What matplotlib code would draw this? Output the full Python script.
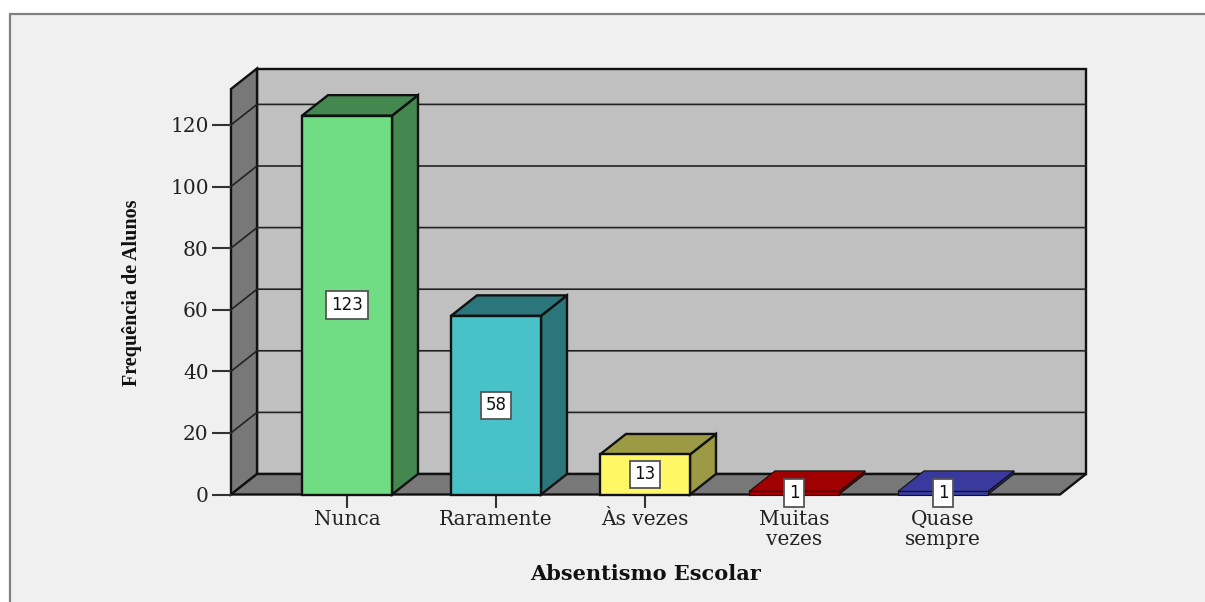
import matplotlib
matplotlib.use("Agg")
import matplotlib.pyplot as plt
from matplotlib.patches import Rectangle

categories = ["Nunca", "Raramente", "Às vezes", "Muitas\nvezes", "Quase\nsempre"]
values = [123, 58, 13, 1, 1]
front_colors = ["#70DC84", "#48C2C8", "#FFF765", "#A00000", "#3A3A9E"]
shade_colors = ["#44874F", "#2A767A", "#9C9A45", "#A00000", "#3A3A9E"]
side_colors = ["#44874F", "#2A767A", "#9C9A45", "#6E0000", "#26266E"]
y_ticks = [0, 20, 40, 60, 80, 100, 120]

W, H = 1205, 602
fig = plt.figure(figsize=(W / 100, H / 100), dpi=100, facecolor="white")

# panel background with its thin grey frame
fig.add_artist(Rectangle((9.5 / W, -0.02), 1.1, (H - 14) / H + 0.02, transform=fig.transFigure,
                         facecolor="#F0F0F0", edgecolor="#808080", linewidth=1.6, zorder=-1))

# axes span the front plane of the 3D box
left, right, bottom, top = 231, 1060, 494.5, 89
ax = fig.add_axes([left / W, 1 - bottom / H, (right - left) / W, (bottom - top) / H])
ax.patch.set_visible(False)
for s in ax.spines.values():
    s.set_visible(False)

spacing = 149.0
px_per_unit = 3.08
x_min = (left - 347) / spacing
x_max = (right - 347) / spacing
y_max = (bottom - top) / px_per_unit
ax.set_xlim(x_min, x_max)
ax.set_ylim(0, y_max)
dx = 26 / spacing
dy = 20.5 / px_per_unit
bar_w = 90 / spacing
line = "#111111"
wall_lw = 1.7


def poly(xs, ys, fc, z, lw=wall_lw):
    ax.fill(xs, ys, facecolor=fc, edgecolor=line, linewidth=lw, zorder=z,
            clip_on=False, joinstyle="miter")


# back wall, left wall and floor
poly([x_min + dx, x_max + dx, x_max + dx, x_min + dx], [dy, dy, y_max + dy, y_max + dy], "#C0C0C0", 1)
poly([x_min, x_min + dx, x_min + dx, x_min], [0, dy, y_max + dy, y_max], "#787878", 1.2)
poly([x_min, x_max, x_max + dx, x_min + dx], [0, 0, dy, dy], "#787878", 1.2)

# gridlines wrap from the left wall onto the back wall
for t in y_ticks[1:]:
    ax.plot([x_min, x_min + dx, x_max + dx], [t, t + dy, t + dy], color="#222222",
            linewidth=1.2, zorder=1.5, clip_on=False, solid_joinstyle="miter")

# bars: side and top faces first, then the front from ax.bar
for i, v in enumerate(values):
    l, r = i - bar_w / 2, i + bar_w / 2
    edge = wall_lw if v > 5 else 0.8
    poly([r, r + dx, r + dx, r], [0, dy, v + dy, v], side_colors[i], 2 + i, lw=edge)
    poly([l, l + dx, r + dx, r], [v, v + dy, v + dy, v], shade_colors[i], 2 + i, lw=edge)
    ax.bar(i, v, width=bar_w, color=front_colors[i], edgecolor=line,
           linewidth=edge, zorder=2.5 + i, clip_on=False)

# value labels centred on each bar's front face
for i, v in enumerate(values):
    ax.text(i, v / 2, str(v), ha="center", va="center", fontsize=12,
            family="DejaVu Sans", color="#111111", zorder=20, clip_on=False,
            bbox=dict(boxstyle="square,pad=0.28", facecolor="white",
                      edgecolor="#555555", linewidth=1.3))

ax.set_xticks(range(len(categories)))
ax.set_xticklabels(categories, family="DejaVu Serif", fontsize=14.5, color="#222222",
                   linespacing=1.1)
ax.set_yticks(y_ticks)
ax.set_yticklabels([str(t) for t in y_ticks], family="DejaVu Serif", fontsize=14.5, color="#222222")
ax.tick_params(axis="x", length=9, width=1.5, color="#333333", pad=2)
ax.tick_params(axis="y", length=14, width=1.5, color="#333333", pad=2)
for t in ax.xaxis.get_major_ticks() + ax.yaxis.get_major_ticks():
    t.tick1line.set_zorder(1)

ax.set_xlabel("Absentismo Escolar", family="DejaVu Serif", fontweight="bold", fontsize=15,
              color="#111111", va="center")
ax.xaxis.set_label_coords((645 - left) / (right - left), -(574 - bottom) / (bottom - top))
ax.set_ylabel("Frequência de Alunos", family="Liberation Serif", fontweight="bold",
              fontsize=14.5, color="#111111", va="center")
ax.yaxis.set_label_coords((132 - left) / (right - left), (bottom - 293) / (bottom - top))

fig.savefig("out.png", dpi=100, facecolor=fig.get_facecolor())
